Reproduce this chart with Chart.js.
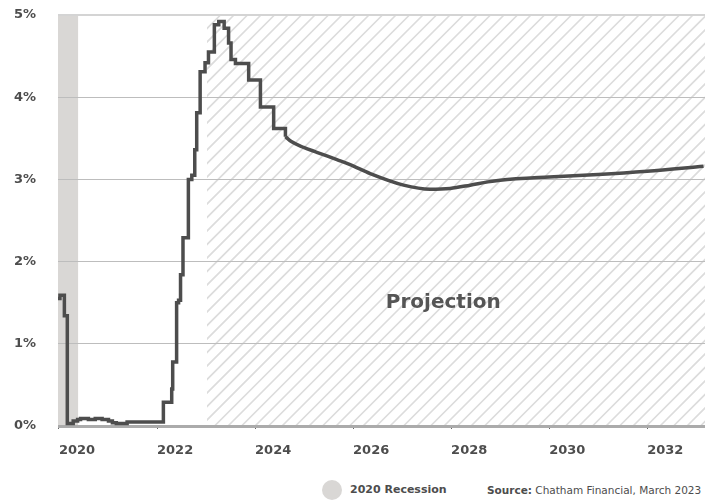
<!DOCTYPE html>
<html>
<head>
<meta charset="utf-8">
<script src="https://cdn.jsdelivr.net/npm/chart.js@4.4.1/dist/chart.umd.min.js"></script>
<style>
    body { margin: 0; background: #fff; font-family: "DejaVu Sans", sans-serif; }
    #wrap { position: relative; width: 708px; height: 500px; overflow: hidden; }
    #box { position: absolute; left: 0; top: 0; width: 708px; height: 470px; }
    .foot { position: absolute; top: 483px; font-size: 11px; color: #4d4d4d; line-height: 14px; white-space: nowrap; }
    .dot { position: absolute; left: 322px; top: 480px; width: 20px; height: 20px; border-radius: 50%; background: #d9d7d5; }
</style>
</head>
<body>
<div id="wrap">
    <div id="box"><canvas id="rateChart" width="708" height="470"></canvas></div>
    <div class="dot"></div>
    <div class="foot" style="left:350px; font-weight:bold;">2020 Recession</div>
    <div class="foot" style="left:487px; font-size:10.5px;"><b>Source:</b> Chatham Financial, March 2023</div>
</div>
<script>
// effective fed funds rate, monthly steps up to the end of the FOMC path
var histYears = [2019.97, 2020.02, 2020.11, 2020.17, 2020.29, 2020.38, 2020.44, 2020.60, 2020.74, 2020.88,
    2021.01, 2021.09, 2021.17, 2021.39, 2022.13, 2022.30, 2022.32, 2022.40, 2022.44, 2022.48,
    2022.53, 2022.64, 2022.71, 2022.77, 2022.81, 2022.88, 2022.98, 2023.05, 2023.17, 2023.26,
    2023.37, 2023.46, 2023.51, 2023.60, 2023.87, 2024.11, 2024.38, 2024.62]
var histRates = [1.55, 1.59, 1.34, 0.03, 0.06, 0.08, 0.09, 0.08, 0.09, 0.08,
    0.06, 0.04, 0.03, 0.05, 0.29, 0.45, 0.78, 1.50, 1.53, 1.84,
    2.29, 3.00, 3.05, 3.36, 3.81, 4.31, 4.42, 4.55, 4.88, 4.92,
    4.84, 4.66, 4.46, 4.41, 4.21, 3.88, 3.62, 3.52]

// forward curve
var projYears = [2024.62, 2024.74, 2024.99, 2025.26, 2025.67, 2025.94, 2026.35, 2027.03, 2027.57, 2027.98,
    2028.39, 2028.75, 2029.00, 2030.00, 2031.00, 2032.00, 2033.15]
var projRates = [3.52, 3.46, 3.39, 3.33, 3.24, 3.18, 3.07, 2.93, 2.88, 2.89,
    2.93, 2.97, 2.99, 3.03, 3.06, 3.10, 3.16]

var yearTicks = [2020, 2022, 2024, 2026, 2028, 2030, 2032]
var rateTicks = [0, 1, 2, 3, 4, 5]

var recession = [2019.98, 2020.39]
var projectionStart = 2023.02
var xMin = 2019.98
var xMax = 2033.18

function toPoints(xs, ys) {
    return xs.map(function (x, i) { return { x: x, y: ys[i] } })
}

var shading = {
    id: "shading",
    beforeDraw: function (chart) {
        var ctx = chart.ctx
        var area = chart.chartArea
        var x = chart.scales.x
        ctx.save()
        ctx.beginPath()
        ctx.rect(area.left, area.top, area.right - area.left, area.bottom - area.top)
        ctx.clip()

        // recession band
        var r0 = x.getPixelForValue(recession[0])
        var r1 = x.getPixelForValue(recession[1])
        ctx.fillStyle = "#d9d7d5"
        ctx.fillRect(r0, area.top, r1 - r0, area.bottom - area.top)

        // hatched projection area
        var p0 = x.getPixelForValue(projectionStart)
        ctx.beginPath()
        ctx.rect(p0, area.top, area.right - p0, area.bottom - area.top)
        ctx.clip()
        var h = area.bottom - area.top
        ctx.strokeStyle = "#dcdcdc"
        ctx.lineWidth = 1.6
        ctx.beginPath()
        for (var s = p0 - h; s < area.right + 14; s += 13.5) {
            ctx.moveTo(s, area.bottom)
            ctx.lineTo(s + h, area.top)
        }
        ctx.stroke()
        ctx.restore()
    },
    afterDatasetsDraw: function (chart) {
        var ctx = chart.ctx
        ctx.save()
        ctx.font = "bold 20px 'DejaVu Sans'"
        ctx.fillStyle = "#555555"
        ctx.textAlign = "center"
        ctx.textBaseline = "middle"
        ctx.fillText("Projection", chart.scales.x.getPixelForValue(2027.84), chart.scales.y.getPixelForValue(1.5))
        ctx.restore()
    }
}

var getRateChart = document.getElementById("rateChart")

var rateChart = new Chart(getRateChart, {
    type: "line",
    data: {
        datasets: [{
            data: toPoints(histYears, histRates),
            stepped: true,
            borderColor: "#4d4d4d",
            borderWidth: 3.5,
            pointRadius: 0
        }, {
            data: toPoints(projYears, projRates),
            cubicInterpolationMode: "monotone",
            borderColor: "#4d4d4d",
            borderWidth: 3.5,
            pointRadius: 0
        }]
    },
    options: {
        responsive: false,
        animation: false,
        layout: { padding: { top: 15, right: 3, left: 0, bottom: 0 } },
        plugins: {
            legend: { display: false },
            tooltip: { enabled: false }
        },
        scales: {
            x: {
                type: "linear",
                min: xMin,
                max: xMax,
                afterBuildTicks: function (scale) {
                    scale.ticks = yearTicks.map(function (v) { return { value: v } })
                },
                afterFit: function (scale) {
                    scale.height = 44
                    scale.paddingRight = 0
                },
                border: { display: false },
                grid: {
                    drawOnChartArea: false,
                    tickLength: 3,
                    tickColor: "#666666"
                },
                ticks: {
                    align: "start",
                    padding: 14,
                    color: "#4d4d4d",
                    font: { family: "DejaVu Sans", size: 13, weight: "bold" },
                    callback: function (v) { return String(v) }
                }
            },
            y: {
                min: 0,
                max: 5,
                afterBuildTicks: function (scale) {
                    scale.ticks = rateTicks.map(function (v) { return { value: v } })
                },
                afterFit: function (scale) {
                    scale.width = 58
                    scale.paddingTop = 0
                    scale.paddingBottom = 0
                },
                border: { display: false },
                grid: {
                    drawTicks: false,
                    color: function (c) {
                        if (c.tick.value === 0) return "#ababab"
                        if (c.tick.value === 5) return "#d4d4d4"
                        return "#bdbdbd"
                    },
                    lineWidth: function (c) {
                        if (c.tick.value === 0) return 3
                        if (c.tick.value === 5) return 2
                        return 1
                    }
                },
                ticks: {
                    padding: 22,
                    color: "#4d4d4d",
                    font: { family: "DejaVu Sans", size: 13, weight: "bold" },
                    callback: function (v) { return v + "%" }
                }
            }
        }
    },
    plugins: [shading]
})
</script>
</body>
</html>
